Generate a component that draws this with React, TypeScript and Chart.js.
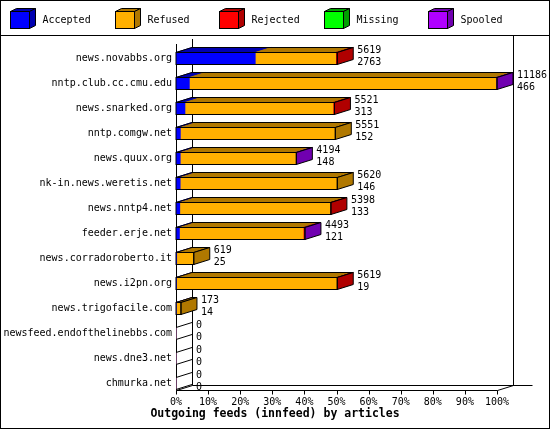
import { useEffect, useRef } from "react";
import { Chart, registerables } from "chart.js";

Chart.register(...registerables);

const servers = [
  "news.novabbs.org",
  "nntp.club.cc.cmu.edu",
  "news.snarked.org",
  "nntp.comgw.net",
  "news.quux.org",
  "nk-in.news.weretis.net",
  "news.nntp4.net",
  "feeder.erje.net",
  "news.corradoroberto.it",
  "news.i2pn.org",
  "news.trigofacile.com",
  "newsfeed.endofthelinebbs.com",
  "news.dne3.net",
  "chmurka.net",
];

// labels on the right: offered / accepted
const offered = [5619, 11186, 5521, 5551, 4194, 5620, 5398, 4493, 619, 5619, 173, 0, 0, 0];
const accepted = [2763, 466, 313, 152, 148, 146, 133, 121, 25, 19, 14, 0, 0, 0];
const refused = [2801, 10680, 5158, 5399, 4016, 5474, 5245, 4312, 594, 5580, 159, 0, 0, 0];
const rejected = [55, 0, 50, 0, 0, 0, 20, 45, 0, 20, 0, 0, 0, 0];
const missing = [0, 0, 0, 0, 0, 0, 0, 0, 0, 0, 0, 0, 0, 0];
const spooled = [0, 40, 0, 0, 30, 0, 0, 15, 0, 0, 0, 0, 0, 0];

const percentTicks = [0, 10, 20, 30, 40, 50, 60, 70, 80, 90, 100];

const seriesNames = ["Accepted", "Refused", "Rejected", "Missing", "Spooled"];
const seriesData = [accepted, refused, rejected, missing, spooled];
const faceColors = ["#0000ff", "#ffb000", "#ff0000", "#00ff00", "#b000ff"];
const shadeColors = ["#0000b0", "#b07800", "#b00000", "#00a000", "#7000b0"];

const maxOffered = Math.max(...offered);
const FONT = "'DejaVu Sans Mono', monospace";
const DX = 16;
const DY = -5;

const poly = (ctx: CanvasRenderingContext2D, pts: number[][], fill?: string) => {
  ctx.beginPath();
  pts.forEach(([px, py], i) => (i ? ctx.lineTo(px, py) : ctx.moveTo(px, py)));
  ctx.closePath();
  if (fill) {
    ctx.fillStyle = fill;
    ctx.fill();
  }
  ctx.stroke();
};

const seg = (ctx: CanvasRenderingContext2D, x1: number, y1: number, x2: number, y2: number) => {
  ctx.beginPath();
  ctx.moveTo(x1, y1);
  ctx.lineTo(x2, y2);
  ctx.stroke();
};

const innreport3d = {
  id: "innreport3d",
  beforeDatasetsDraw(chart: any) {
    const { ctx, chartArea: a, scales } = chart;
    const L = Math.round(a.left) + 0.5;
    const R = Math.round(a.right) + 0.5;
    const base = Math.round(a.bottom - 6) + 0.5;
    ctx.save();
    ctx.strokeStyle = "#000";
    ctx.lineWidth = 1;
    seg(ctx, L, 44, L, base);
    seg(ctx, L + DX, 39, L + DX, base + DY);
    seg(ctx, R + DX, 36, R + DX, base + DY);
    seg(ctx, L + DX, base + DY, R + DX + 19, base + DY);
    seg(ctx, L, base, R, base);
    seg(ctx, L, base, L + DX, base + DY);
    seg(ctx, R, base, R + DX, base + DY);
    scales.x.ticks.forEach((t: any) => {
      const px = Math.round(scales.x.getPixelForValue(t.value)) + 0.5;
      seg(ctx, px, base, px, base + 4);
    });
    ctx.restore();
  },
  afterDatasetsDraw(chart: any) {
    const { ctx, scales } = chart;
    const metas = seriesData.map((_, d) => chart.getDatasetMeta(d));
    const left = scales.x.getPixelForValue(0);
    ctx.save();
    ctx.strokeStyle = "#000";
    ctx.lineWidth = 1;
    ctx.font = `10px ${FONT}`;
    servers.forEach((_, i) => {
      const el0 = metas[0].data[i];
      const top = el0.y - el0.height / 2;
      const bottom = el0.y + el0.height / 2;
      const end = metas[metas.length - 1].data[i].x;
      if (offered[i] > 0) {
        let last = 0;
        seriesData.forEach((vals, d) => {
          if (vals[i] <= 0) return;
          last = d;
          const el = metas[d].data[i];
          ctx.save();
          ctx.strokeStyle = shadeColors[d];
          poly(
            ctx,
            [
              [el.base, top],
              [el.base + DX, top + DY],
              [el.x + DX, top + DY],
              [el.x, top],
            ],
            shadeColors[d]
          );
          ctx.restore();
        });
        poly(ctx, [
          [left, top],
          [left + DX, top + DY],
          [end + DX, top + DY],
          [end, top],
        ]);
        poly(
          ctx,
          [
            [end, top],
            [end + DX, top + DY],
            [end + DX, bottom + DY],
            [end, bottom],
          ],
          shadeColors[last]
        );
        ctx.strokeRect(left, top, end - left, bottom - top);
      } else {
        seg(ctx, left, top, left + DX, top + DY);
        seg(ctx, left, bottom, left + DX, bottom + DY);
      }
      ctx.fillStyle = "#000";
      ctx.textAlign = "left";
      ctx.textBaseline = "alphabetic";
      ctx.fillText(String(offered[i]), end + DX + 4, bottom - 12);
      ctx.fillText(String(accepted[i]), end + DX + 4, bottom);
    });
    ctx.restore();
  },
  afterDraw(chart: any) {
    const { ctx, width } = chart;
    ctx.save();
    ctx.strokeStyle = "#000";
    ctx.lineWidth = 1;
    ctx.strokeRect(0.5, 0.5, width - 1, 428);
    seg(ctx, 0, 35.5, width, 35.5);
    seriesNames.forEach((name, d) => {
      const bx = Math.round(10 + d * 104.5) + 0.5;
      const by = 11.5;
      const w = 19;
      const h = 17;
      poly(
        ctx,
        [
          [bx, by],
          [bx + 6, by - 3],
          [bx + w + 6, by - 3],
          [bx + w, by],
        ],
        shadeColors[d]
      );
      poly(
        ctx,
        [
          [bx + w, by],
          [bx + w + 6, by - 3],
          [bx + w + 6, by + h - 3],
          [bx + w, by + h],
        ],
        shadeColors[d]
      );
      ctx.fillStyle = faceColors[d];
      ctx.fillRect(bx, by, w, h);
      ctx.strokeRect(bx, by, w, h);
      ctx.fillStyle = "#000";
      ctx.font = `10px ${FONT}`;
      ctx.textAlign = "left";
      ctx.textBaseline = "middle";
      ctx.fillText(name, bx + 32, 20);
    });
    ctx.font = `bold 11.5px ${FONT}`;
    ctx.textAlign = "center";
    ctx.textBaseline = "middle";
    ctx.fillText("Outgoing feeds (innfeed) by articles", width / 2, 414.5);
    ctx.restore();
  },
};

const FeedsChart = () => {
  const chartRef = useRef<HTMLCanvasElement>(null);
  useEffect(() => {
    document.body.style.margin = "0";
    const chart = new Chart(chartRef.current!, {
      type: "bar",
      data: {
        labels: servers,
        datasets: seriesNames.map((name, d) => ({
          label: name,
          data: seriesData[d],
          backgroundColor: faceColors[d],
          borderWidth: 0,
          barThickness: 12,
        })),
      },
      options: {
        animation: false,
        responsive: true,
        maintainAspectRatio: false,
        indexAxis: "y",
        layout: { padding: { top: 46, right: 53, left: 0, bottom: 0 } },
        plugins: {
          legend: { display: false },
          tooltip: { enabled: false },
        },
        scales: {
          x: {
            stacked: true,
            min: 0,
            max: maxOffered,
            afterBuildTicks: (s: any) => {
              s.ticks = percentTicks.map((p) => ({ value: (p * maxOffered) / 100 }));
            },
            afterFit: (s: any) => {
              s.height = 34;
            },
            grid: { display: false, drawTicks: false },
            border: { display: false },
            ticks: {
              padding: 0,
              color: "#000",
              autoSkip: false,
              maxRotation: 0,
              font: { family: FONT, size: 10 },
              callback: (v) => `${Math.round((Number(v) / maxOffered) * 100)}%`,
            },
          },
          y: {
            stacked: true,
            afterFit: (s: any) => {
              s.width = 176;
            },
            grid: { display: false, drawTicks: false },
            border: { display: false },
            ticks: {
              padding: 4,
              color: "#000",
              autoSkip: false,
              font: { family: FONT, size: 10 },
            },
          },
        },
      },
      plugins: [innreport3d],
    });

    return () => {
      chart.destroy();
    };
  }, []);

  return (
    <div style={{ width: 550, height: 430, position: "relative" }}>
      <canvas ref={chartRef} />
    </div>
  );
};

export default function App() {
  return <FeedsChart />;
}
